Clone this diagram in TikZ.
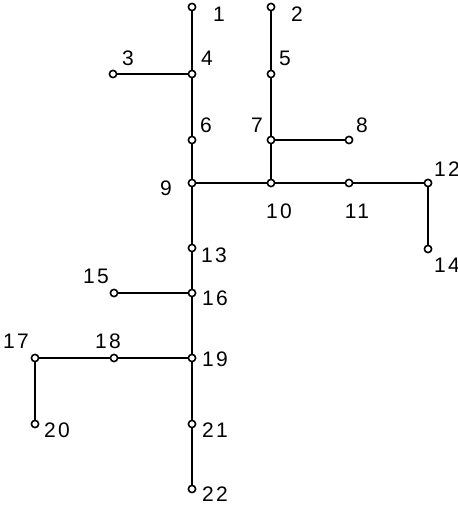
\documentclass[tikz,border=0pt]{standalone}
\usepackage{fontspec}
\setmainfont[LetterSpace=12]{Liberation Sans}
\usetikzlibrary{positioning}

\tikzset{
  jn/.style={circle,draw,fill=white,line width=0.8pt,inner sep=0pt,minimum size=3.6pt},
  num/.style={font=\fontsize{10.5}{11}\selectfont,inner sep=0pt},
  pipe/.style={line width=0.85pt}
}

\begin{document}
\begin{tikzpicture}[x=0.5pt,y=-0.5pt]
  \useasboundingbox (0,0) rectangle (458,506);
  % junctions
  \foreach \n/\x/\y in {1/192/7,2/271/7,3/113/74,4/192/74,5/271/74,6/192/140,
      7/271/140,8/349/140,9/192/183,10/271/183,11/349/183,12/428/183,13/192/248,
      14/428/249,15/114/293,16/192/293,17/35/358,18/114/358,19/192/358,
      20/35/424,21/192/424,22/192/489}
    \node[jn] (n\n) at (\x,\y) {};
  % pipes
  \foreach \a/\b in {1/4,4/3,4/6,6/9,9/13,13/16,16/15,16/19,19/18,18/17,17/20,
      19/21,21/22,2/5,5/7,7/8,7/10,9/10,10/11,11/12,12/14}
    \draw[pipe] (n\a) -- (n\b);
  % numbers
  \foreach \n/\x/\y in {1/219/14,2/297/14,3/128/58,4/207/58,5/285/58,6/206/125,
      7/257/125,8/362/125,9/166/188,10/279/211,11/357/211,12/447/169,13/214/255,
      14/447/265,15/96/276,16/215/298,17/16/341,18/108/341,19/215/359,
      20/57/430,21/215/430,22/215/494}
    \node[num] (t\n) at (\x,\y) {\n};
\end{tikzpicture}
\end{document}
